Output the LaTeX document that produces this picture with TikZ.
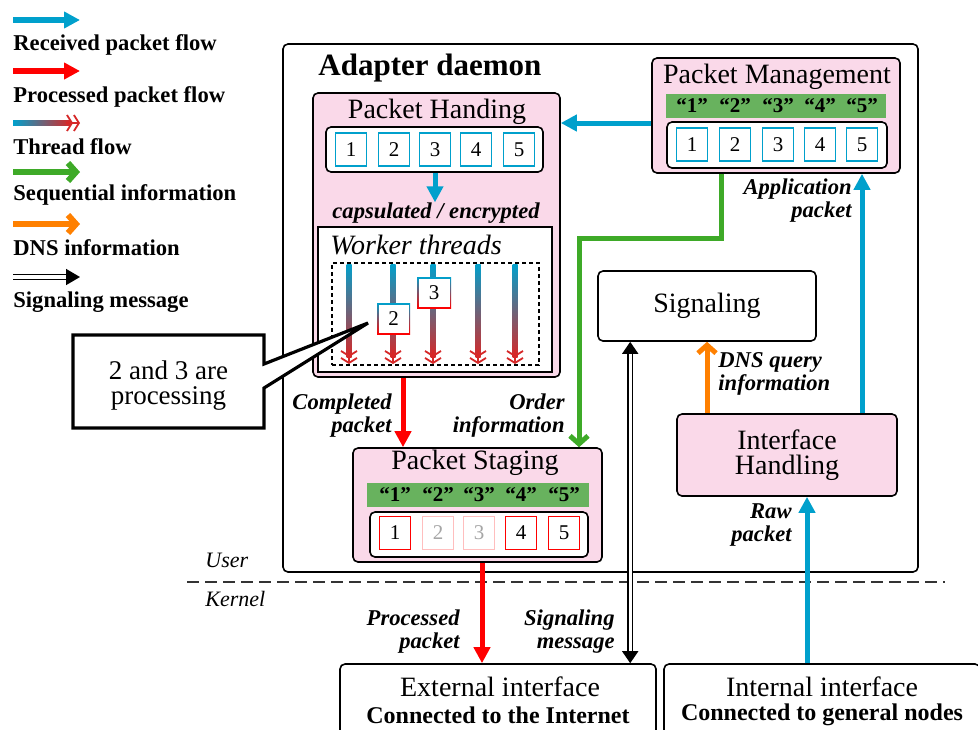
\documentclass[tikz,border=0pt]{standalone}
\usepackage{fontspec}
\setmainfont{Liberation Serif}
\usepackage{xcolor}
\usetikzlibrary{arrows.meta,positioning,calc}

\definecolor{pktblue}{RGB}{0,160,204}
\definecolor{pktred}{RGB}{255,0,0}
\definecolor{thrred}{RGB}{214,40,40}
\definecolor{seqgreen}{RGB}{62,170,40}
\definecolor{bargreen}{RGB}{104,178,94}
\definecolor{dnsorange}{RGB}{255,128,0}
\definecolor{boxpink}{RGB}{250,217,233}
\definecolor{palered}{RGB}{255,190,190}

\tikzset{
  pinkbox/.style={draw, line width=0.8pt, rounded corners=2.5pt, fill=boxpink, inner sep=0pt},
  whitebox/.style={draw, line width=0.8pt, rounded corners=2.5pt, fill=white, inner sep=0pt},
  pkt/.style={draw=#1, line width=0.9pt, fill=white, inner sep=0pt, minimum width=15.5pt, minimum height=16.5pt, font=\fontsize{10.5}{12}\selectfont},
  seqbar/.style={fill=bargreen, inner sep=0pt, minimum width=110pt, minimum height=12pt},
  qnum/.style={font=\fontsize{10.5}{12}\selectfont\bfseries, inner sep=0pt},
  ttl/.style={font=\fontsize{14}{12.5}\selectfont, inner sep=0pt, align=center},
  lbl/.style={font=\fontsize{11.3}{11.5}\selectfont\bfseries\itshape, inner sep=0pt},
  legtext/.style={font=\fontsize{11.3}{13}\selectfont\bfseries, inner sep=0pt, anchor=west},
  recv/.style={draw=pktblue, line width=2.5pt, -{Triangle[length=8pt,width=8pt]}},
  proc/.style={draw=pktred, line width=2.5pt, -{Triangle[length=8pt,width=8pt]}},
  seq/.style={draw=seqgreen, line width=2.5pt, -{Straight Barb[length=4pt,width=9pt]}},
  dns/.style={draw=dnsorange, line width=2.5pt, -{Straight Barb[length=4pt,width=9pt]}},
  sigmsg/.style={draw=black, double=white, double distance=1.5pt, line width=0.8pt, {Triangle[length=6pt,width=8pt]}-{Triangle[length=6pt,width=8pt]}},
  sigleg/.style={draw=black, double=white, double distance=1.6pt, line width=0.8pt, -{Triangle[length=7pt,width=8pt]}},
  chevrons/.style={draw=thrred, line width=0.9pt, -{Straight Barb[length=2.5pt,width=8pt] Straight Barb[length=2.5pt,width=8pt]}},
}

\begin{document}
\begin{tikzpicture}[x=0.5pt, y=-0.5pt]
    \useasboundingbox (0,0) rectangle (978,729);
    \clip (0,0) rectangle (978,729);

    % legend
    \foreach \st/\yy in {recv/20, proc/71, seq/172, dns/224}
        \draw[\st, line width=3pt] (13,\yy) -- (80,\yy);
    \shade[left color=pktblue, right color=thrred] (13,120.5) rectangle (70,125.5);
    \draw[chevrons] (66,123) -- (80,123);
    \draw[sigleg] (13,277) -- (80,277);
    \node[legtext] (lgrecv) at (13,45) {Received packet flow};
    \node[legtext] (lgproc) at (13,97) {Processed packet flow};
    \node[legtext] (lgthr) at (13,147) {Thread flow};
    \node[legtext] (lgseq) at (13,195) {Sequential information};
    \node[legtext] (lgdns) at (13,248) {DNS information};
    \node[legtext] (lgsig) at (13,302) {Signaling message};

    % user / kernel
    \node[whitebox, minimum width=317.5pt, minimum height=264pt] (daemon) at (600.5,308) {};
    \node[font=\fontsize{15.5}{17}\selectfont\bfseries, anchor=west, inner sep=0pt] (daemontitle) at (318,68) {Adapter daemon};
    \draw[line width=0.8pt, dash pattern=on 6pt off 3pt, black!80] (187,582) -- (945,582);
    \node[font=\fontsize{11}{12}\selectfont\itshape, anchor=west, inner sep=0pt] (user) at (205,560) {User};
    \node[font=\fontsize{11}{12}\selectfont\itshape, anchor=west, inner sep=0pt] (kernel) at (205,599) {Kernel};

    % packet handing
    \node[pinkbox, minimum width=123.5pt, minimum height=142pt] (hand) at (436.5,235) {};
    \node[ttl] (handtitle) at (437,112) {Packet Handing};
    \node[whitebox, minimum width=108.5pt, minimum height=22.5pt] (handq) at (434.5,149.5) {};
    \foreach \i/\xx in {1/351,2/394,3/435,4/476,5/519}
        \node[pkt=pktblue] (h\i) at (\xx,149.5) {\i};
    \node[lbl] (capt) at (436,213) {capsulated / encrypted};
    \node[draw, line width=0.8pt, fill=white, minimum width=117pt, minimum height=72.5pt, inner sep=0pt] (worker) at (435,299.5) {};
    \node[font=\fontsize{14}{12}\selectfont\itshape, anchor=west, inner sep=0pt] (workertitle) at (330,245) {Worker threads};
    \node[draw, line width=0.7pt, dash pattern=on 2pt off 1.5pt, minimum width=103.5pt, minimum height=51pt, inner sep=0pt] (pool) at (435.5,314) {};
    \foreach \tx in {349,393,433,478,515} {
        \shade[top color=pktblue, bottom color=thrred] (\tx-2.5,264) rectangle (\tx+2.5,357);
        \draw[chevrons] (\tx,350) -- (\tx,364);
    }
    \shade[top color=pktblue, bottom color=pktred] (417,277) rectangle (451,308);
    \node[pkt=none, fill=white, minimum height=14pt] (w3) at (434,292.5) {3};
    \shade[top color=pktblue, bottom color=pktred] (377,303) rectangle (410,334);
    \node[pkt=none, fill=white, minimum width=15pt, minimum height=14pt] (w2) at (393.5,318.5) {2};

    % callout
    \coordinate (tip) at (368,323);
    \draw[line width=1.6pt, fill=white] (73,335) -- (264,335) -- (264,364) -- (tip) -- (264,388) -- (264,428) -- (73,428) -- cycle;
    \node[ttl, font=\fontsize{13.5}{12.5}\selectfont] (note) at (168.5,386) {2 and 3 are\\processing};

    % packet management
    \node[pinkbox, minimum width=124pt, minimum height=57.5pt] (mgmt) at (776,115.5) {};
    \node[ttl] (mgmttitle) at (777,77) {Packet Management};
    \node[seqbar] (mgmtbar) at (776,106) {};
    \node[whitebox, minimum width=110pt, minimum height=23pt] (mgmtq) at (777,145) {};
    \foreach \i/\xx in {1/692,2/735,3/778,4/820,5/862} {
        \node[qnum] (mn\i) at (\xx,106) {“\i”};
        \node[pkt=pktblue] (mq\i) at (\xx,144.5) {\i};
    }

    % packet staging
    \node[pinkbox, minimum width=124.5pt, minimum height=57pt] (stage) at (477.5,505) {};
    \node[ttl] (stagetitle) at (475,463) {Packet Staging};
    \node[seqbar, minimum width=111pt] (stagebar) at (478,495) {};
    \node[whitebox, minimum width=109pt, minimum height=22.5pt] (stageq) at (479,534.5) {};
    \foreach \i/\xx/\bc/\tc in {1/395/pktred/black,2/438/palered/black!35,3/479/palered/black!35,4/521/pktred/black,5/564/pktred/black} {
        \node[qnum] (sn\i) at (\xx,495) {“\i”};
        \node[pkt=\bc, text=\tc] (sq\i) at (\xx,533) {\i};
    }

    % signaling and interfaces
    \node[whitebox, ttl, minimum width=109pt, minimum height=35pt] (sig) at (707,306) {Signaling};
    \node[pinkbox, ttl, minimum width=110pt, minimum height=41pt] (ifh) at (787,455) {Interface\\Handling};
    \node[whitebox, minimum width=158pt, minimum height=48pt] (ext) at (498,712) {};
    \node[ttl] (extname) at (500,687) {External interface};
    \node[font=\fontsize{12}{14}\selectfont\bfseries, inner sep=0pt] (extnote) at (498,715) {Connected to the Internet};
    \node[whitebox, minimum width=158pt, minimum height=48pt] (int) at (822,712) {};
    \node[ttl] (intname) at (822,687) {Internal interface};
    \node[font=\fontsize{12}{14}\selectfont\bfseries, inner sep=0pt] (intnote) at (822,715) {Connected to general nodes};

    % flows
    \draw[recv] ([yshift=-3.75pt]mgmt.west) -- ([yshift=-3.75pt]mgmt.west -| hand.east);
    \draw[recv] (h3 |- handq.south) -- (h3 |- capt.north);
    \draw[proc] ([xshift=-16.75pt]hand.south) -- ([xshift=-16.75pt]hand.south |- stage.north);
    \coordinate (gbend) at (579,238);
    \draw[seq] ([xshift=-27.5pt]mgmt.south) |- (gbend) -- (gbend |- stage.north);
    \draw[proc] ([xshift=2.25pt]stage.south) -- ([xshift=2.25pt]stage.south |- ext.north);
    \draw[dns] (sig.south |- ifh.north) -- (sig.south);
    \draw[recv] (mq5 |- ifh.north) -- (mq5 |- mgmt.south);
    \draw[recv] ([xshift=-7.5pt]int.north) -- ([xshift=-7.5pt]int.north |- ifh.south);
    \draw[sigmsg] ([xshift=16.5pt]sig.south west) -- ([xshift=16.5pt]sig.south west |- ext.north);

    % labels
    \node[lbl, align=right, anchor=east] (applbl) at (852,201) {Application\\packet};
    \node[lbl, align=right, anchor=east] (complbl) at (392,416) {Completed\\packet};
    \node[lbl, align=right, anchor=east] (ordlbl) at (565,416) {Order\\information};
    \node[lbl, align=left, anchor=west] (dnslbl) at (718,374) {DNS query\\information};
    \node[lbl, align=right, anchor=east] (rawlbl) at (792,525) {Raw\\packet};
    \node[lbl, align=right, anchor=east] (proclbl) at (460,632) {Processed\\packet};
    \node[lbl, align=right, anchor=east] (siglbl) at (615,632) {Signaling\\message};
\end{tikzpicture}
\end{document}
